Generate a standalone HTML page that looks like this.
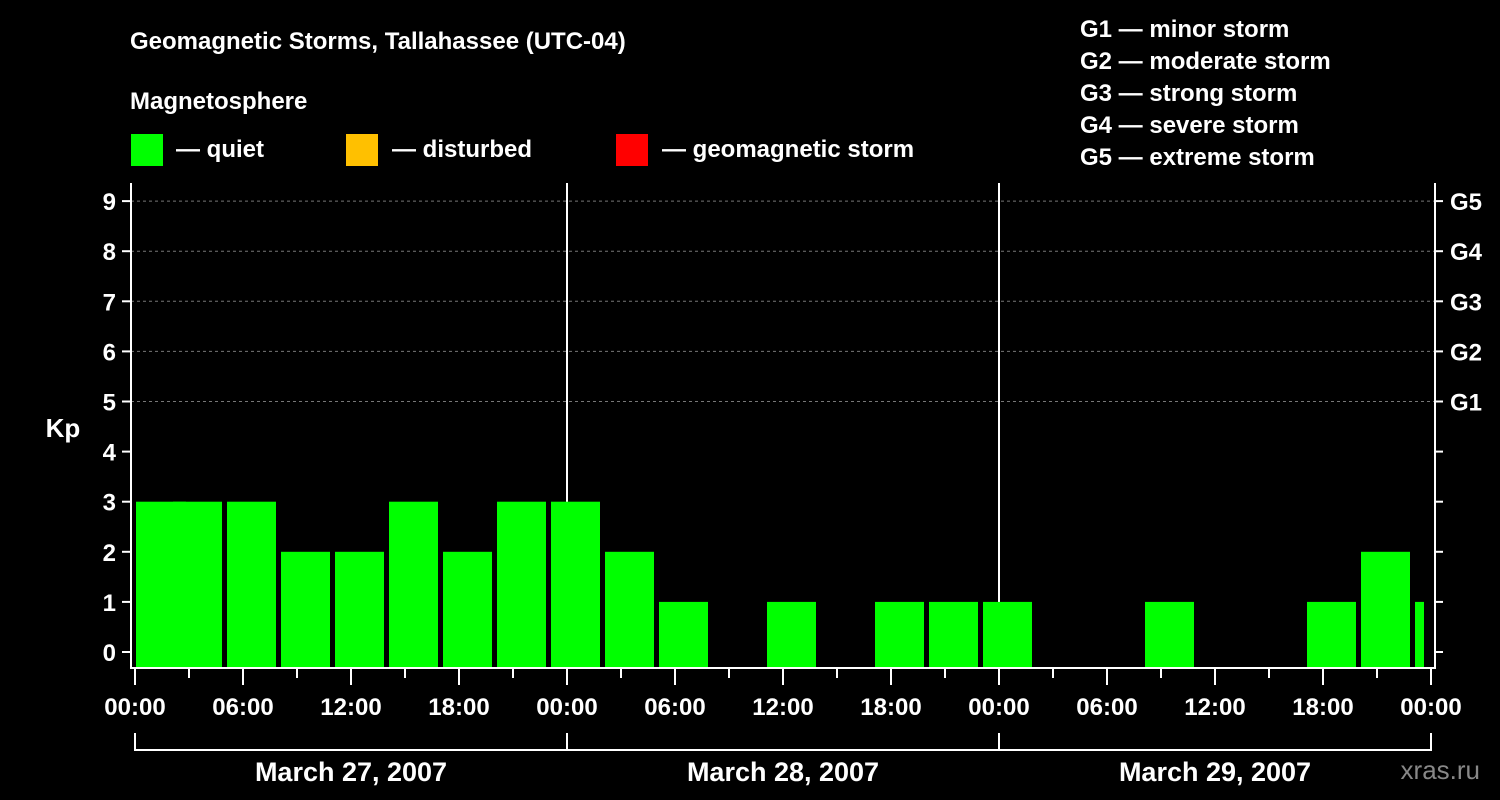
<!DOCTYPE html>
<html><head><meta charset="utf-8"><style>
html,body{margin:0;padding:0;background:#000;}
svg{display:block;font-family:"Liberation Sans",Arial,sans-serif;font-weight:bold;}
</style></head><body>
<svg width="1500" height="800" viewBox="0 0 1500 800">
<text x="130" y="49" fill="#fff" font-size="24">Geomagnetic Storms, Tallahassee (UTC-04)</text>
<text x="130" y="109" fill="#fff" font-size="24">Magnetosphere</text>
<g>
<rect x="131" y="134" width="32" height="32" fill="#00ff00"/>
<text x="176" y="157" fill="#fff" font-size="24">— quiet</text>
<rect x="346" y="134" width="32" height="32" fill="#ffc000"/>
<text x="392" y="157" fill="#fff" font-size="24">— disturbed</text>
<rect x="616" y="134" width="32" height="32" fill="#ff0000"/>
<text x="662" y="157" fill="#fff" font-size="24">— geomagnetic storm</text>
</g>
<g fill="#fff" font-size="24">
<text x="1080" y="37">G1 — minor storm</text>
<text x="1080" y="69">G2 — moderate storm</text>
<text x="1080" y="101">G3 — strong storm</text>
<text x="1080" y="133">G4 — severe storm</text>
<text x="1080" y="165">G5 — extreme storm</text>
</g>
<text x="63" y="437" fill="#fff" font-size="26" text-anchor="middle">Kp</text>
<g id="grid"></g>
<g id="bars"></g>
<g id="axes"></g>
<text x="1480" y="779" fill="#888" font-size="26" text-anchor="end" font-weight="normal">xras.ru</text>
</svg>
<script>
const kpValues=[3,3,3,2,2,3,2,3,3,2,1,0,1,0,1,1,1,0,0,1,0,0,1,2,1];
const yTicks=[0,1,2,3,4,5,6,7,8,9];
const gLabels=["G1","G2","G3","G4","G5"];
const gLevels=[5,6,7,8,9];
const timeLabels=["00:00","06:00","12:00","18:00","00:00","06:00","12:00","18:00","00:00","06:00","12:00","18:00","00:00"];
const dateLabels=["March 27, 2007","March 28, 2007","March 29, 2007"];
const NS="http://www.w3.org/2000/svg";
const x0=135,pxh=18,L=131,R=1435,T=183,B=668;
const xh=h=>x0+h*pxh;
const y=v=>652-v*50.1;
function mk(tag,a,p){const e=document.createElementNS(NS,tag);for(const k in a)e.setAttribute(k,a[k]);p.appendChild(e);return e;}
const grid=document.getElementById('grid'),bars=document.getElementById('bars'),ax=document.getElementById('axes');
yTicks.forEach(v=>{if(v>=5){const g=mk('line',{x1:L,x2:R,y1:y(v),y2:y(v),stroke:'#777','stroke-dasharray':'3,3'},grid);

}});
[24,48].forEach(h=>{const d=mk('line',{x1:xh(h),x2:xh(h),y1:T,y2:B,stroke:'#fff','stroke-width':2},grid);

});
const color=v=>v>=5?'#ff0000':(v>=4?'#ffc000':'#00ff00');
kpValues.forEach((v,i)=>{
 const s=i==0?0:2+3*(i-1),e=Math.min(72,s+3);
 let xa=i==0?xh(0)+1:xh(s)+2, xb=(i==kpValues.length-1)?xh(72)-7:xh(e)-3;
 if(v<=0)return;
 const r=mk('rect',{x:xa,y:y(v),width:xb-xa,height:B-y(v),fill:color(v)},bars);
 
 
});
const fr=mk('path',{d:`M${L},${T}V${B}H${R}V${T}`,stroke:'#fff','stroke-width':2,fill:'none'},ax);


yTicks.forEach(v=>{
 mk('line',{x1:122,x2:L,y1:y(v),y2:y(v),stroke:'#fff','stroke-width':2},ax);
 mk('line',{x1:R,x2:R+8,y1:y(v),y2:y(v),stroke:'#fff','stroke-width':2},ax);
 const t=mk('text',{x:116,y:y(v)+9,fill:'#fff','font-size':24,'text-anchor':'end'},ax);t.textContent=v;
 
 
});
gLabels.forEach((g,i)=>{const t=mk('text',{x:1450,y:y(gLevels[i])+9,fill:'#fff','font-size':24},ax);t.textContent=g;
 
 });
for(let h=0;h<=72;h+=3){mk('line',{x1:xh(h),x2:xh(h),y1:B,y2:h%6==0?685:678,stroke:'#fff','stroke-width':2},ax);}
timeLabels.forEach((l,i)=>{const t=mk('text',{x:xh(i*6),y:715,fill:'#fff','font-size':24,'text-anchor':'middle'},ax);t.textContent=l;
 
 });
mk('path',{d:`M${xh(0)},733V750H${xh(72)}V733`,stroke:'#fff','stroke-width':2,fill:'none'},ax);
[24,48].forEach(h=>mk('line',{x1:xh(h),x2:xh(h),y1:733,y2:750,stroke:'#fff','stroke-width':2},ax));
dateLabels.forEach((d,i)=>{const t=mk('text',{x:xh(i*24+12),y:781,fill:'#fff','font-size':27,'text-anchor':'middle'},ax);t.textContent=d;
 
 });
</script>
</body></html>
